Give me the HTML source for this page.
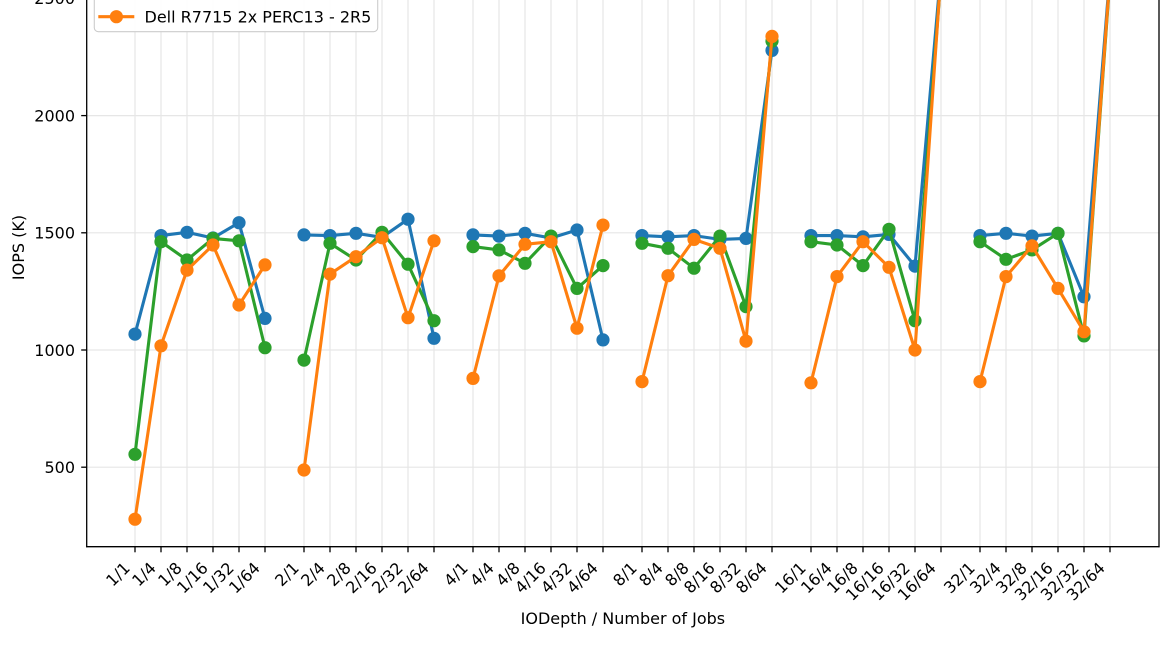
<!DOCTYPE html>
<html>
<head>
<meta charset="utf-8">
<style>
html,body{margin:0;padding:0;background:#fff;}
svg{display:block;}
text{font-family:"DejaVu Sans","Liberation Sans",sans-serif;fill:#000;}
</style>
</head>
<body>
<svg width="1170" height="663" viewBox="0 0 1170 663" xmlns="http://www.w3.org/2000/svg">
<defs>
<marker id="mb" viewBox="-7 -7 14 14" markerWidth="14" markerHeight="14" refX="0" refY="0" markerUnits="userSpaceOnUse"><circle r="6.6" fill="#1f77b4"/></marker>
<marker id="mg" viewBox="-7 -7 14 14" markerWidth="14" markerHeight="14" refX="0" refY="0" markerUnits="userSpaceOnUse"><circle r="6.6" fill="#2ca02c"/></marker>
<marker id="mo" viewBox="-7 -7 14 14" markerWidth="14" markerHeight="14" refX="0" refY="0" markerUnits="userSpaceOnUse"><circle r="6.6" fill="#ff7f0e"/></marker>
<clipPath id="ax"><rect x="86.7" y="-200" width="1072.3" height="746.7"/></clipPath>
</defs>
<rect width="1170" height="663" fill="#fff"/>

<!-- grid -->
<g stroke="#e6e6e6" stroke-width="1.2">
<line x1="135" y1="0" x2="135" y2="546.7"/><line x1="161" y1="0" x2="161" y2="546.7"/><line x1="187" y1="0" x2="187" y2="546.7"/><line x1="213" y1="0" x2="213" y2="546.7"/><line x1="239" y1="0" x2="239" y2="546.7"/><line x1="265" y1="0" x2="265" y2="546.7"/>
<line x1="304" y1="0" x2="304" y2="546.7"/><line x1="330" y1="0" x2="330" y2="546.7"/><line x1="356" y1="0" x2="356" y2="546.7"/><line x1="382" y1="0" x2="382" y2="546.7"/><line x1="408" y1="0" x2="408" y2="546.7"/><line x1="434" y1="0" x2="434" y2="546.7"/>
<line x1="473" y1="0" x2="473" y2="546.7"/><line x1="499" y1="0" x2="499" y2="546.7"/><line x1="525" y1="0" x2="525" y2="546.7"/><line x1="551" y1="0" x2="551" y2="546.7"/><line x1="577" y1="0" x2="577" y2="546.7"/><line x1="603" y1="0" x2="603" y2="546.7"/>
<line x1="642" y1="0" x2="642" y2="546.7"/><line x1="668" y1="0" x2="668" y2="546.7"/><line x1="694" y1="0" x2="694" y2="546.7"/><line x1="720" y1="0" x2="720" y2="546.7"/><line x1="746" y1="0" x2="746" y2="546.7"/><line x1="772" y1="0" x2="772" y2="546.7"/>
<line x1="811" y1="0" x2="811" y2="546.7"/><line x1="837" y1="0" x2="837" y2="546.7"/><line x1="863" y1="0" x2="863" y2="546.7"/><line x1="889" y1="0" x2="889" y2="546.7"/><line x1="915" y1="0" x2="915" y2="546.7"/><line x1="941" y1="0" x2="941" y2="546.7"/>
<line x1="980" y1="0" x2="980" y2="546.7"/><line x1="1006" y1="0" x2="1006" y2="546.7"/><line x1="1032" y1="0" x2="1032" y2="546.7"/><line x1="1058" y1="0" x2="1058" y2="546.7"/><line x1="1084" y1="0" x2="1084" y2="546.7"/><line x1="1110" y1="0" x2="1110" y2="546.7"/>
<line x1="86.7" y1="467.2" x2="1159" y2="467.2"/><line x1="86.7" y1="350" x2="1159" y2="350"/><line x1="86.7" y1="232.8" x2="1159" y2="232.8"/><line x1="86.7" y1="115.6" x2="1159" y2="115.6"/><line x1="86.7" y1="-1.6" x2="1159" y2="-1.6"/>
</g>

<!-- series -->
<g clip-path="url(#ax)" fill="none" stroke-width="3.1" stroke-linejoin="round" stroke-linecap="butt">
<g stroke="#1f77b4" marker-start="url(#mb)" marker-mid="url(#mb)" marker-end="url(#mb)">
<polyline points="135,334.1 161,235.6 187,232.3 213,238.0 239,222.7 265,318.4"/>
<polyline points="304,234.9 330,235.6 356,233.3 382,237.3 408,219.2 434,338.3"/>
<polyline points="473,234.9 499,236.1 525,233.3 551,238.0 577,230.0 603,339.9"/>
<polyline points="642,235.6 668,236.8 694,235.6 720,239.4 746,238.4 772,50.4"/>
<polyline points="811,235.6 837,235.6 863,236.8 889,234.4 915,266.1 941,-29.7"/>
<polyline points="980,235.6 1006,233.3 1032,236.1 1058,233.3 1084,296.8 1110,-27.4"/>
</g>
<g stroke="#2ca02c" marker-start="url(#mg)" marker-mid="url(#mg)" marker-end="url(#mg)">
<polyline points="135,454.3 161,241.7 187,260.0 213,238.4 239,240.8 265,347.7"/>
<polyline points="304,360.1 330,243.3 356,260.0 382,232.3 408,264.2 434,320.7"/>
<polyline points="473,246.6 499,249.9 525,263.3 551,236.1 577,288.4 603,265.6"/>
<polyline points="642,243.3 668,248.3 694,268.2 720,236.1 746,306.6 772,41.1"/>
<polyline points="811,241.7 837,245.0 863,265.6 889,229.3 915,320.7 941,-25.0"/>
<polyline points="980,241.7 1006,259.3 1032,249.9 1058,233.3 1084,335.9 1110,-22.7"/>
</g>
<g stroke="#ff7f0e" marker-start="url(#mo)" marker-mid="url(#mo)" marker-end="url(#mo)">
<polyline points="135,519.2 161,345.8 187,270.1 213,245.0 239,305.0 265,264.9"/>
<polyline points="304,470.0 330,274.1 356,256.7 382,237.7 408,317.7 434,240.8"/>
<polyline points="473,378.4 499,275.9 525,244.3 551,241.7 577,328.2 603,225.1"/>
<polyline points="642,381.6 668,275.7 694,239.4 720,248.3 746,341.1 772,36.4"/>
<polyline points="811,382.8 837,276.6 863,241.7 889,267.3 915,350.0 941,-27.4"/>
<polyline points="980,381.6 1006,276.6 1032,245.9 1058,288.4 1084,331.7 1110,-25.0"/>
</g>
</g>

<!-- spines -->
<g stroke="#000" stroke-width="1.3" fill="none">
<line x1="86.7" y1="-5" x2="86.7" y2="547.3"/>
<line x1="86.1" y1="546.7" x2="1159.6" y2="546.7"/>
<line x1="1159" y1="-5" x2="1159" y2="547.3"/>
</g>

<!-- ticks -->
<g stroke="#000" stroke-width="1.3">
<line x1="81.2" y1="467.2" x2="86.7" y2="467.2"/><line x1="81.2" y1="350" x2="86.7" y2="350"/><line x1="81.2" y1="232.8" x2="86.7" y2="232.8"/><line x1="81.2" y1="115.6" x2="86.7" y2="115.6"/><line x1="81.2" y1="-1.6" x2="86.7" y2="-1.6"/>
<line x1="135" y1="546.7" x2="135" y2="552.3"/><line x1="161" y1="546.7" x2="161" y2="552.3"/><line x1="187" y1="546.7" x2="187" y2="552.3"/><line x1="213" y1="546.7" x2="213" y2="552.3"/><line x1="239" y1="546.7" x2="239" y2="552.3"/><line x1="265" y1="546.7" x2="265" y2="552.3"/>
<line x1="304" y1="546.7" x2="304" y2="552.3"/><line x1="330" y1="546.7" x2="330" y2="552.3"/><line x1="356" y1="546.7" x2="356" y2="552.3"/><line x1="382" y1="546.7" x2="382" y2="552.3"/><line x1="408" y1="546.7" x2="408" y2="552.3"/><line x1="434" y1="546.7" x2="434" y2="552.3"/>
<line x1="473" y1="546.7" x2="473" y2="552.3"/><line x1="499" y1="546.7" x2="499" y2="552.3"/><line x1="525" y1="546.7" x2="525" y2="552.3"/><line x1="551" y1="546.7" x2="551" y2="552.3"/><line x1="577" y1="546.7" x2="577" y2="552.3"/><line x1="603" y1="546.7" x2="603" y2="552.3"/>
<line x1="642" y1="546.7" x2="642" y2="552.3"/><line x1="668" y1="546.7" x2="668" y2="552.3"/><line x1="694" y1="546.7" x2="694" y2="552.3"/><line x1="720" y1="546.7" x2="720" y2="552.3"/><line x1="746" y1="546.7" x2="746" y2="552.3"/><line x1="772" y1="546.7" x2="772" y2="552.3"/>
<line x1="811" y1="546.7" x2="811" y2="552.3"/><line x1="837" y1="546.7" x2="837" y2="552.3"/><line x1="863" y1="546.7" x2="863" y2="552.3"/><line x1="889" y1="546.7" x2="889" y2="552.3"/><line x1="915" y1="546.7" x2="915" y2="552.3"/><line x1="941" y1="546.7" x2="941" y2="552.3"/>
<line x1="980" y1="546.7" x2="980" y2="552.3"/><line x1="1006" y1="546.7" x2="1006" y2="552.3"/><line x1="1032" y1="546.7" x2="1032" y2="552.3"/><line x1="1058" y1="546.7" x2="1058" y2="552.3"/><line x1="1084" y1="546.7" x2="1084" y2="552.3"/><line x1="1110" y1="546.7" x2="1110" y2="552.3"/>
</g>

<!-- y tick labels -->
<g font-size="16" text-anchor="end">
<text x="75" y="473">500</text>
<text x="75" y="355.8">1000</text>
<text x="75" y="238.6">1500</text>
<text x="75" y="121.4">2000</text>
<text x="75" y="4.2">2500</text>
</g>

<!-- x tick labels -->
<g font-size="16" text-anchor="end">
<text transform="translate(131,569) rotate(-45)">1/1</text>
<text transform="translate(157,569) rotate(-45)">1/4</text>
<text transform="translate(183,569) rotate(-45)">1/8</text>
<text transform="translate(209,569) rotate(-45)">1/16</text>
<text transform="translate(235,569) rotate(-45)">1/32</text>
<text transform="translate(261,569) rotate(-45)">1/64</text>
<text transform="translate(300,569) rotate(-45)">2/1</text>
<text transform="translate(326,569) rotate(-45)">2/4</text>
<text transform="translate(352,569) rotate(-45)">2/8</text>
<text transform="translate(378,569) rotate(-45)">2/16</text>
<text transform="translate(404,569) rotate(-45)">2/32</text>
<text transform="translate(430,569) rotate(-45)">2/64</text>
<text transform="translate(469,569) rotate(-45)">4/1</text>
<text transform="translate(495,569) rotate(-45)">4/4</text>
<text transform="translate(521,569) rotate(-45)">4/8</text>
<text transform="translate(547,569) rotate(-45)">4/16</text>
<text transform="translate(573,569) rotate(-45)">4/32</text>
<text transform="translate(599,569) rotate(-45)">4/64</text>
<text transform="translate(638,569) rotate(-45)">8/1</text>
<text transform="translate(664,569) rotate(-45)">8/4</text>
<text transform="translate(690,569) rotate(-45)">8/8</text>
<text transform="translate(716,569) rotate(-45)">8/16</text>
<text transform="translate(742,569) rotate(-45)">8/32</text>
<text transform="translate(768,569) rotate(-45)">8/64</text>
<text transform="translate(807,569) rotate(-45)">16/1</text>
<text transform="translate(833,569) rotate(-45)">16/4</text>
<text transform="translate(859,569) rotate(-45)">16/8</text>
<text transform="translate(885,569) rotate(-45)">16/16</text>
<text transform="translate(911,569) rotate(-45)">16/32</text>
<text transform="translate(937,569) rotate(-45)">16/64</text>
<text transform="translate(976,569) rotate(-45)">32/1</text>
<text transform="translate(1002,569) rotate(-45)">32/4</text>
<text transform="translate(1028,569) rotate(-45)">32/8</text>
<text transform="translate(1054,569) rotate(-45)">32/16</text>
<text transform="translate(1080,569) rotate(-45)">32/32</text>
<text transform="translate(1106,569) rotate(-45)">32/64</text>
</g>

<!-- axis labels -->
<text x="622.9" y="624" font-size="16" text-anchor="middle">IODepth / Number of Jobs</text>
<text transform="translate(24,247.5) rotate(-90)" font-size="16" text-anchor="middle">IOPS (K)</text>

<!-- legend -->
<rect x="94.3" y="-60" width="283.4" height="91.7" rx="4" ry="4" fill="#fff" fill-opacity="0.85" stroke="#cccccc" stroke-width="1.1"/>
<line x1="98.3" y1="16.7" x2="134.3" y2="16.7" stroke="#ff7f0e" stroke-width="3.1"/>
<circle cx="116.4" cy="16.7" r="6.6" fill="#ff7f0e"/>
<text x="144.5" y="22.6" font-size="16">Dell R7715 2x PERC13 - 2R5</text>
</svg>
</body>
</html>
